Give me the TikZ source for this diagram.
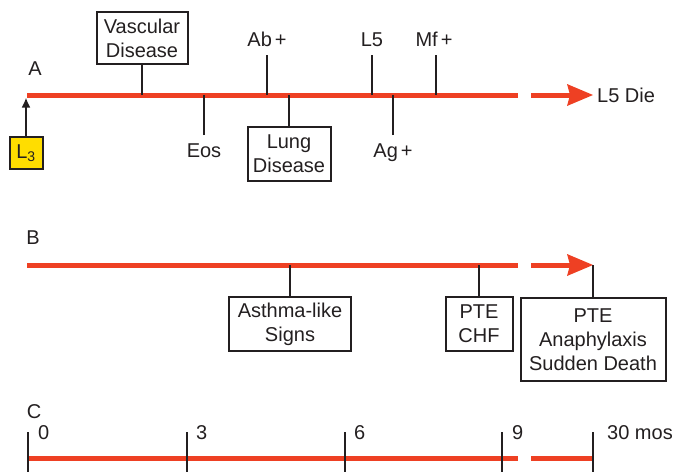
\documentclass[tikz,border=0pt]{standalone}
\usepackage{fontspec}
\setmainfont{Liberation Sans}
\usepackage{tikz}
\usetikzlibrary{arrows.meta, positioning}
\definecolor{rosso}{RGB}{238,64,35}
\definecolor{nero}{RGB}{35,31,32}
\definecolor{giallo}{RGB}{255,221,0}

\tikzset{
    linea/.style = {rosso, line width = 5pt},
    freccia/.style = {linea, -{Stealth[length = 26pt, width = 22pt, inset = 3pt, line width = 0pt]}},
    tacca/.style = {nero, line width = 2pt},
    scatola/.style = {draw = nero, line width = 2pt, align = center, inner sep = 0pt},
    etichetta/.style = {inner xsep = 0pt, inner ysep = 8pt, text height = 14.5pt, text depth = 0pt}
}

\begin{document}
\begin{tikzpicture}[x = 1pt, y = -1pt, font = \fontsize{20}{24}\selectfont, text = nero]
    % Parametri
    \pgfmathsetmacro{\xini}{27}
    \pgfmathsetmacro{\xstop}{518}
    \pgfmathsetmacro{\xripresa}{531}
    \pgfmathsetmacro{\xfine}{593}
    \useasboundingbox (0,0) rectangle (678,472);

    % Linea A
    \node[etichetta] (labA) at (35,68) {A};
    \coordinate (A0) at (\xini,95);
    \coordinate (A1) at (\xstop,95);
    \coordinate (A2) at (\xripresa,95);
    \coordinate (A3) at (\xfine,95);
    \draw[linea] (A0) -- (A1);
    \draw[freccia] (A2) -- (A3);
    \node[etichetta, right = 4pt of A3, anchor = west] (die) {L5 Die};

    \node[scatola, fill = giallo, minimum width = 33pt, minimum height = 32pt] (l3) at (26,153) {L\textsubscript{3}};
    \draw[nero, line width = 2pt, -{Latex[length = 10pt, width = 9pt]}, shorten > = 2.5pt] (l3.north) -- (l3.north |- A0);

    \coordinate (tVas) at (142,95);
    \coordinate (tEos) at (204,95);
    \coordinate (tAb) at (267,95);
    \coordinate (tLung) at (289,95);
    \coordinate (tL5) at (372,95);
    \coordinate (tAg) at (393,95);
    \coordinate (tMf) at (436,95);

    \node[scatola, minimum width = 91pt, minimum height = 52pt, above = 30pt of tVas] (vas) {Vascular\\Disease};
    \node[scatola, minimum width = 83pt, minimum height = 54pt, below = 31pt of tLung] (lung) {Lung\\Disease};
    \node[etichetta, above = 40pt of tAb] (ab) {Ab\hspace{3pt}+};
    \node[etichetta, above = 40pt of tL5] (l5) {L5};
    \node[etichetta, above = 40pt of tMf, xshift = -2pt] (mf) {Mf\hspace{3pt}+};
    \node[etichetta, below = 40pt of tEos] (eos) {Eos};
    \node[etichetta, below = 40pt of tAg] (ag) {Ag\hspace{3pt}+};

    \draw[tacca] (vas) -- (tVas);
    \draw[tacca] (lung) -- (tLung);
    \draw[tacca] (ab.south -| tAb) -- (tAb);
    \draw[tacca] (l5.south -| tL5) -- (tL5);
    \draw[tacca] (mf.south -| tMf) -- (tMf);
    \draw[tacca] (eos.north -| tEos) -- (tEos);
    \draw[tacca] (ag.north -| tAg) -- (tAg);

    % Linea B
    \node[etichetta] (labB) at (33,237) {B};
    \coordinate (B0) at (\xini,265);
    \coordinate (B1) at (\xstop,265);
    \coordinate (B2) at (\xripresa,265);
    \coordinate (B3) at (\xfine,265);
    \draw[linea] (B0) -- (B1);
    \draw[freccia] (B2) -- (B3);

    \coordinate (tAsma) at (290,265);
    \coordinate (tChf) at (479,265);

    \node[scatola, minimum width = 122pt, minimum height = 54pt, below = 31pt of tAsma] (asma) {Asthma-like\\Signs};
    \node[scatola, minimum width = 67pt, minimum height = 54pt, below = 31pt of tChf] (chf) {PTE\\CHF};
    \node[scatola, minimum width = 145pt, minimum height = 83pt, below = 32pt of B3] (morte) {PTE\\Anaphylaxis\\Sudden Death};

    \draw[tacca] (asma) -- (tAsma);
    \draw[tacca] (chf) -- (tChf);
    \draw[tacca] (morte) -- (B3);

    % Linea C (mesi)
    \node[etichetta] (labC) at (34,411) {C};
    \draw[linea] (\xini,458) -- (\xstop,458);
    \draw[linea] (\xripresa,458) -- (\xfine,458);
    \foreach \x/\dx/\mesi in {28/10/0, 187/9/3, 345/9/6, 502/10/9, 593/14/{30 mos}} {
        \draw[tacca] (\x,432) -- (\x,472);
        \node[etichetta, anchor = west] (m\x) at (\x+\dx,432) {\mesi};
    };
\end{tikzpicture}
\end{document}
